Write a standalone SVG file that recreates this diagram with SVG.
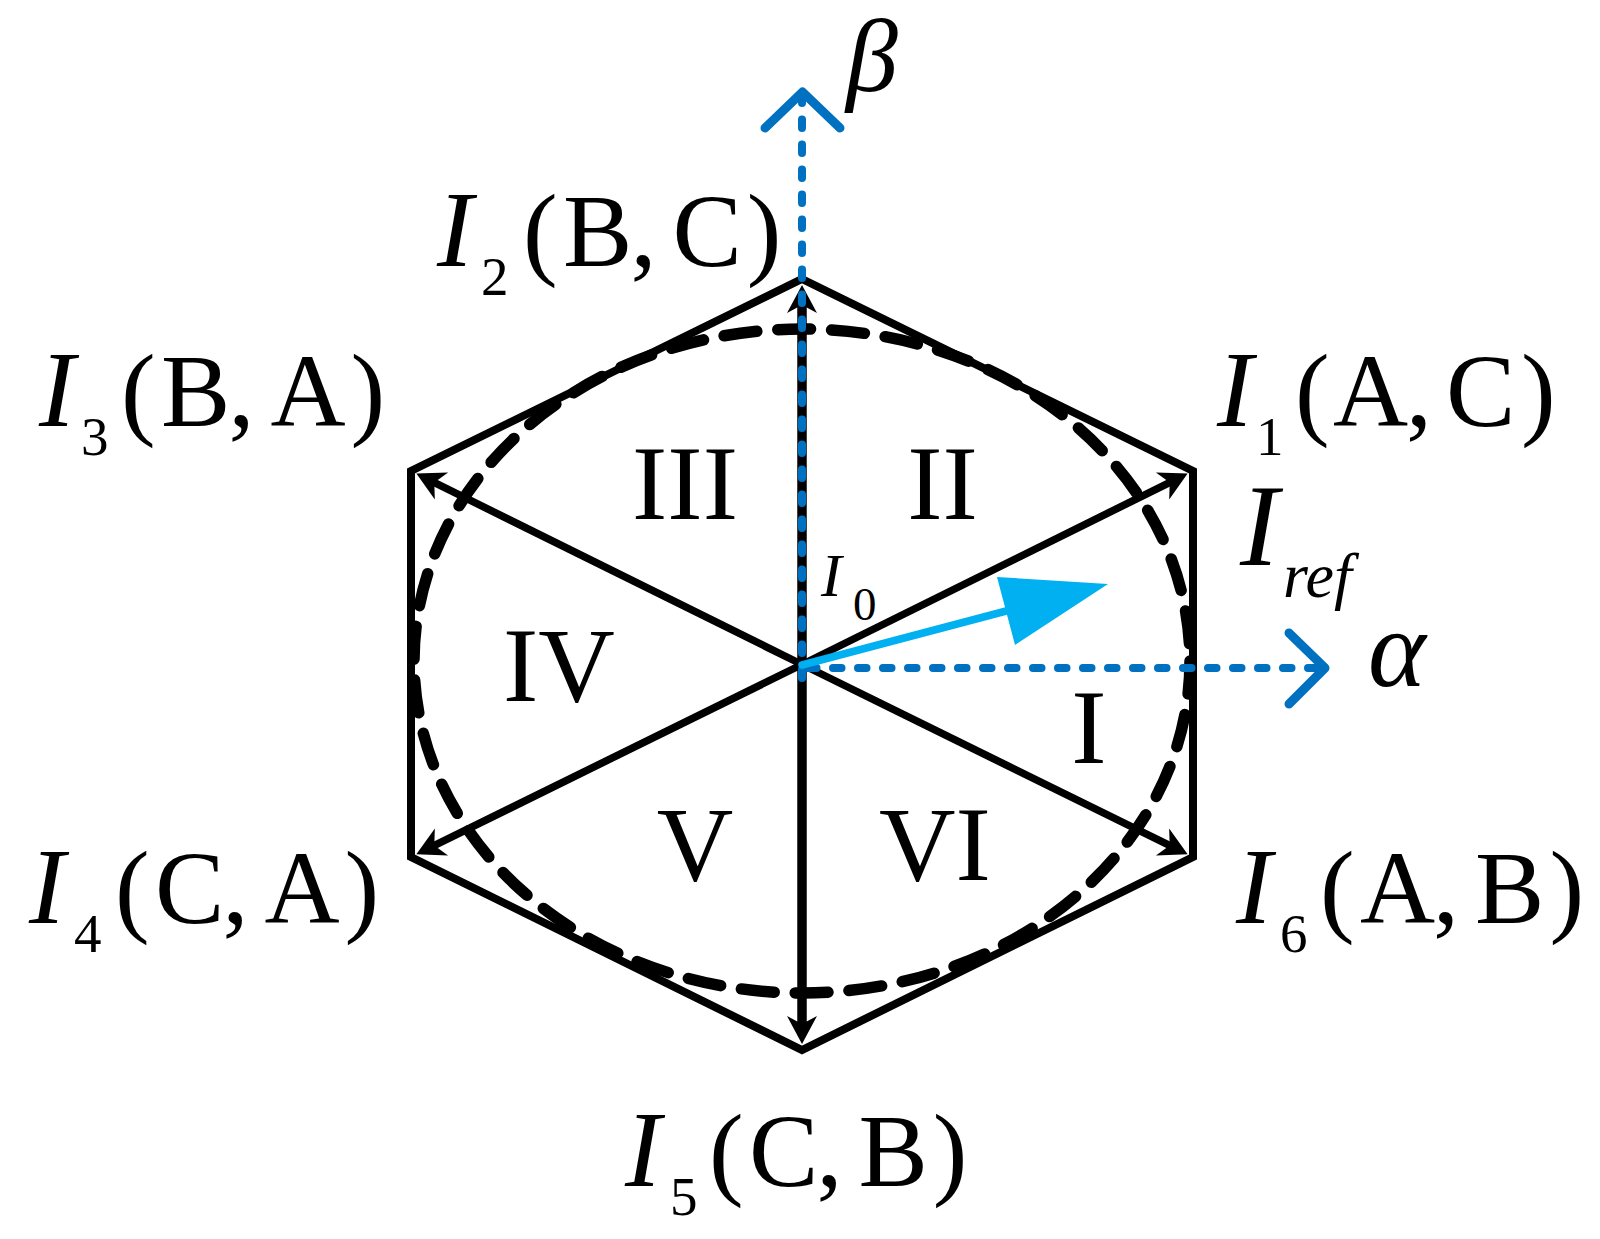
<svg xmlns="http://www.w3.org/2000/svg" width="1600" height="1239" viewBox="0 0 1600 1239">
<style>
.t{font-family:"Liberation Serif","Times New Roman",serif;fill:#000}
.it{font-style:italic}
.big{font-size:108px}
.par{font-size:104px}
.sub{font-size:55px}
.rom{font-size:106px;text-anchor:middle}
.spoke{stroke:#000;stroke-width:7.5;fill:none;marker-end:url(#ah)}
.axis{stroke:#0070C0;stroke-width:8;fill:none;stroke-linecap:round;stroke-dasharray:8.5 16.5}
.chev{stroke:#0070C0;stroke-width:9;fill:none;stroke-linecap:round;stroke-linejoin:round}
</style>
<defs>
<marker id="ah" markerUnits="userSpaceOnUse" viewBox="-32 -17 34 34" refX="-18" refY="0" markerWidth="34" markerHeight="34" orient="auto" overflow="visible">
<path d="M0,0 L-28,-15 L-20,0 L-28,15 Z" fill="#000"/>
</marker>
</defs>
<rect width="1600" height="1239" fill="#fff"/>
<g id="circle">
<ellipse cx="802" cy="661" rx="388" ry="332" fill="none" stroke="#000" stroke-width="11.5" stroke-linecap="round" stroke-dasharray="33 21"/>
</g>
<g id="hexagon">
<polygon points="802,279 1193,471 1193,857 802,1050 411,857 411,471" fill="none" stroke="#000" stroke-width="8" stroke-linejoin="miter"/>
</g>
<g id="connectors">
<line class="spoke" x1="802" y1="664.5" x2="802" y2="303" style="stroke-width:9.5"/>
<line class="spoke" x1="802" y1="664.5" x2="802" y2="1026" style="stroke-width:9.5"/>
<line class="spoke" x1="802" y1="664.5" x2="1171.5" y2="481.6"/>
<line class="spoke" x1="802" y1="664.5" x2="1171.5" y2="846.4"/>
<line class="spoke" x1="802" y1="664.5" x2="432.5" y2="846.4"/>
<line class="spoke" x1="802" y1="664.5" x2="432.5" y2="481.6"/>
<line class="axis" x1="802" y1="678" x2="802" y2="100"/>
<polyline class="chev" points="765,128 802.5,92 840,128"/>
<line class="axis" x1="808" y1="668" x2="1322" y2="668"/>
<polyline class="chev" points="1289,633 1325,668 1289,704"/>
<g id="iref-arrow">
<line x1="802" y1="665" x2="1010" y2="610" stroke="#00B0F0" stroke-width="7.5" stroke-linecap="round"/>
<polygon points="1108,584 997,577 1015,645" fill="#00B0F0"/>
</g>
</g>
<g id="label-I2">
<text class="t it big" x="437" y="266">I</text>
<text class="t sub" x="481" y="295">2</text>
<text class="t par" x="523 563 630.4 672.4 746.8" y="266">(B,C)</text>
</g>
<g id="label-I1">
<text class="t it big" x="1217" y="426">I</text>
<text class="t sub" x="1256" y="455">1</text>
<text class="t par" x="1295 1333 1406 1446 1521" y="426">(A,C)</text>
</g>
<g id="label-I3">
<text class="t it big" x="39" y="426">I</text>
<text class="t sub" x="81" y="455">3</text>
<text class="t par" x="121 161 228.4 270.4 350.5" y="426">(B,A)</text>
</g>
<g id="label-I4">
<text class="t it big" x="29" y="923">I</text>
<text class="t sub" x="74" y="952">4</text>
<text class="t par" x="115 155 222.4 264.4 344.5" y="923">(C,A)</text>
</g>
<g id="label-I6">
<text class="t it big" x="1236" y="923">I</text>
<text class="t sub" x="1280" y="952">6</text>
<text class="t par" x="1320 1360 1433 1475 1549.4" y="923">(A,B)</text>
</g>
<g id="label-I5">
<text class="t it big" x="625" y="1186">I</text>
<text class="t sub" x="670" y="1215">5</text>
<text class="t par" x="709 749 816.4 858.4 932.8" y="1186">(C,B)</text>
</g>
<g id="label-I0">
<text class="t it" style="font-size:62px" x="821" y="596">I</text>
<text class="t" style="font-size:47px" x="853" y="620">0</text>
</g>
<g id="label-Iref">
<text class="t it" style="font-size:116px" x="1240" y="565">I</text>
<text class="t it" style="font-size:64px" x="1283" y="597">ref</text>
</g>
<g id="label-beta">
<text class="t it" style="font-size:104px" x="846" y="91">β</text>
</g>
<g id="label-alpha">
<text class="t it" style="font-size:110px" x="1368" y="686">α</text>
</g>
<g id="sectors">
<text class="t rom" x="685" y="519">III</text>
<text class="t rom" x="942.5" y="519">II</text>
<text class="t rom" x="559" y="701">IV</text>
<text class="t rom" x="1089" y="763">I</text>
<text class="t rom" x="695" y="880">V</text>
<text class="t rom" x="935" y="880">VI</text>
</g>
</svg>
